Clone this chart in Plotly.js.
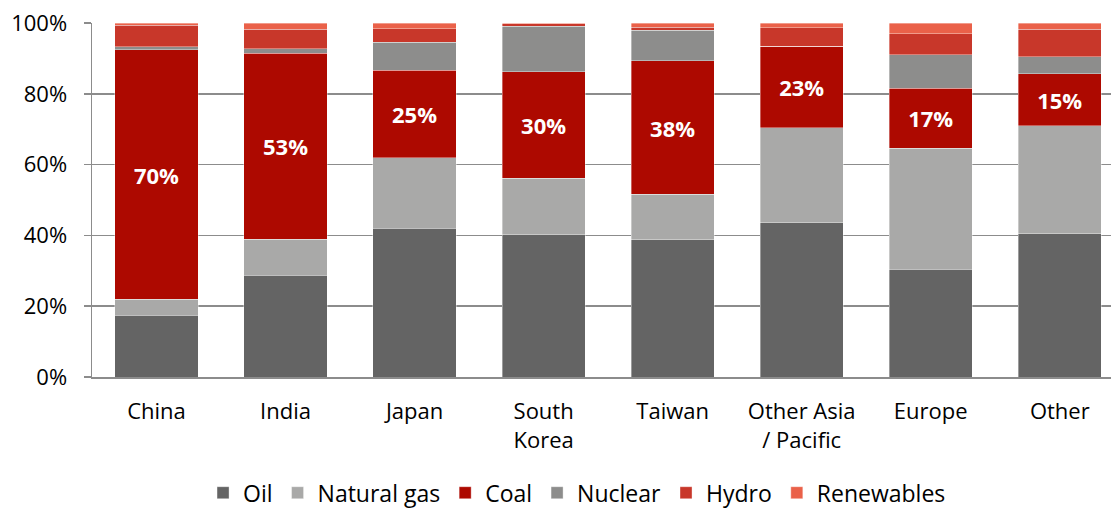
<!DOCTYPE html>
<html>
<head>
<meta charset="utf-8">
<script src="https://cdn.plot.ly/plotly-3.0.1.min.js"></script>
<style>html,body{margin:0;padding:0;background:#fff;}#chart{width:1111px;height:509px;}</style>
</head>
<body>
<div id="chart"></div>
<script>
const categories = ["China", "India", "Japan", "South<br>Korea", "Taiwan", "Other Asia<br>/ Pacific", "Europe", "Other"];
const oil        = [17.5, 28.8, 42.0, 40.2, 38.8, 43.6, 30.4, 40.4];
const naturalGas = [4.5, 10.1, 20.0, 16.0, 12.8, 26.8, 34.2, 30.6];
const coal       = [70.4, 52.6, 24.6, 30.0, 37.7, 23.1, 17.0, 14.6];
const nuclear    = [0.9, 1.2, 7.9, 12.9, 8.7, 0.0, 9.4, 4.8];
const hydro      = [6.0, 5.5, 3.9, 0.7, 0.8, 5.2, 6.0, 7.9];
const renewables = [0.7, 1.8, 1.6, 0.2, 1.2, 1.3, 3.0, 1.7];
const yTickVals  = [0, 20, 40, 60, 80, 100];
const yTickText  = ["0%", "20%", "40%", "60%", "80%", "100%"];

const FONT = "Open Sans, Lato, sans-serif";
const seriesDefs = [
  {name: "Oil", y: oil, color: "#646464"},
  {name: "Natural gas", y: naturalGas, color: "#a9a9a8"},
  {name: "Coal", y: coal, color: "#ad0900", label: true},
  {name: "Nuclear", y: nuclear, color: "#8d8d8c"},
  {name: "Hydro", y: hydro, color: "#c8372a"},
  {name: "Renewables", y: renewables, color: "#ea6149"}
];
const xIdx = categories.map((c, i) => i);
const traces = seriesDefs.map(s => {
  const t = {
    type: "bar",
    name: s.name,
    x: xIdx,
    y: s.y,
    width: 0.645,
    marker: {color: s.color, line: {color: "rgba(255,255,255,0.45)", width: 0.8}},
    hoverinfo: "skip"
  };
  if (s.label) {
    t.texttemplate = "%{y:.0f}%";
    t.textposition = "inside";
    t.insidetextanchor = "middle";
    t.constraintext = "none";
    t.textangle = 0;
    t.insidetextfont = {family: FONT, size: 22, color: "#ffffff", weight: "bold"};
  } else {
    t.textposition = "none";
  }
  return t;
});

const layout = {
  width: 1111,
  height: 509,
  barmode: "stack",
  margin: {l: 92, r: 0, t: 23, b: 132, autoexpand: false},
  paper_bgcolor: "#ffffff",
  plot_bgcolor: "#ffffff",
  font: {family: FONT, size: 22, color: "#000000"},
  showlegend: true,
  legend: {
    orientation: "h",
    x: 0.476, xanchor: "center",
    y: -0.327, yanchor: "middle",
    font: {family: FONT, size: 23, color: "#000000"},
    traceorder: "normal",
    itemclick: false
  },
  xaxis: {
    range: [-0.5, 7.397],
    tickmode: "array",
    tickvals: xIdx,
    ticktext: categories,
    showline: true,
    linecolor: "#8c8c8c",
    linewidth: 1.5,
    ticks: "",
    showgrid: false,
    zeroline: false,
    tickfont: {family: FONT, size: 22, color: "#000000"},
    ticklabelstandoff: 14,
    automargin: false,
    fixedrange: true
  },
  yaxis: {
    range: [0, 100],
    tickmode: "array",
    tickvals: yTickVals,
    ticktext: yTickText,
    showline: true,
    linecolor: "#8c8c8c",
    linewidth: 1.5,
    ticks: "outside",
    ticklen: 7,
    tickwidth: 1.5,
    tickcolor: "#8c8c8c",
    showgrid: true,
    gridcolor: "#8c8c8c",
    gridwidth: 1.5,
    zeroline: false,
    tickfont: {family: FONT, size: 22, color: "#000000"},
    ticklabelstandoff: 12,
    automargin: false,
    fixedrange: true
  }
};

Plotly.newPlot("chart", traces, layout, {displayModeBar: false, staticPlot: true});
</script>
</body>
</html>
